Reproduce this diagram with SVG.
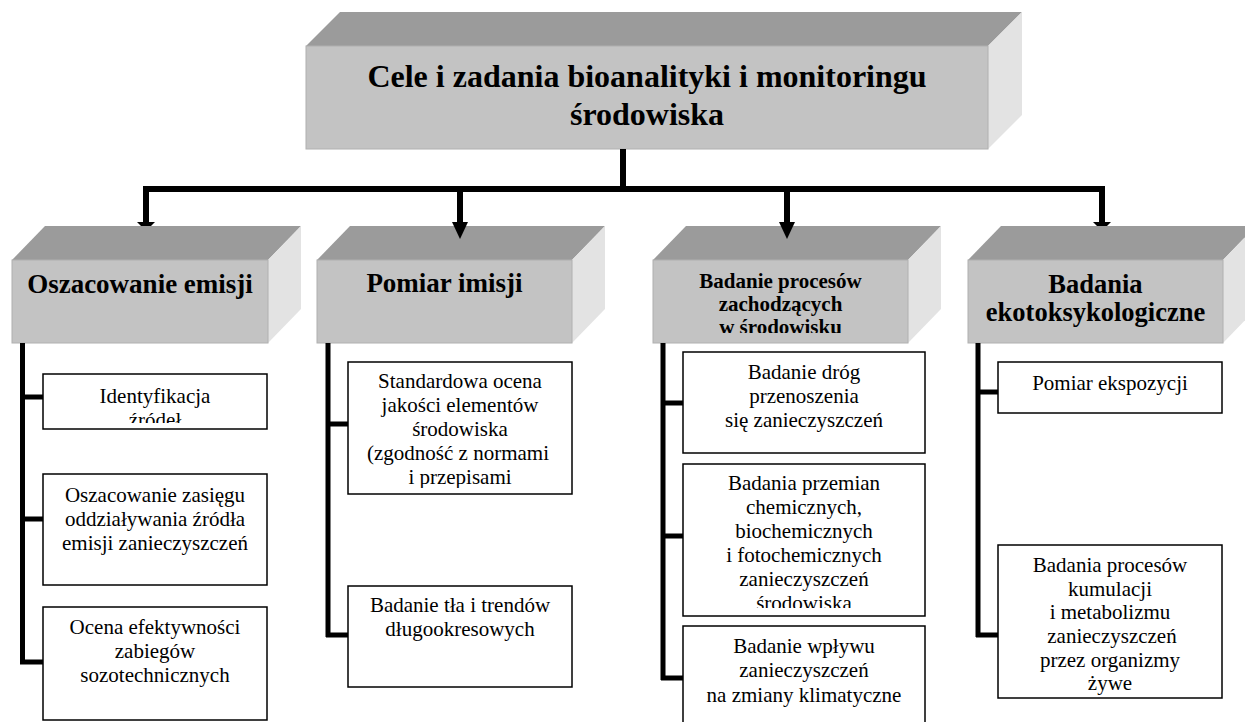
<svg xmlns="http://www.w3.org/2000/svg" width="1245" height="722" viewBox="0 0 1245 722" font-family="'Liberation Serif','Times New Roman',serif">
<style>
.tp{fill:#9b9b9b}
.fr{fill:#c3c3c3;stroke:#b0b0b0;stroke-width:1}
.sd{fill:#e3e3e3}
.sub{fill:#fff;stroke:#000;stroke-width:1.5}
.t{font-family:"Liberation Serif","Times New Roman",serif;font-size:21px;text-anchor:middle;fill:#000}
.h{font-weight:bold;font-size:27px}
.h4{font-weight:bold;font-size:26.5px}
.h3{font-weight:bold;font-size:21px}
.ti{font-weight:bold;font-size:32px}
.c{stroke:#000;stroke-width:6;fill:none;stroke-linejoin:miter}
.b{stroke:#000;stroke-width:5;fill:none}
</style>
<defs>
<marker id="ah" markerUnits="userSpaceOnUse" viewBox="0 -8 17 16" refX="0" refY="0" markerWidth="17" markerHeight="16" orient="auto">
<path d="M0,-8 L17,0 L0,8 z" fill="#000"/>
</marker>
<clipPath id="c3h"><rect x="653" y="260" width="255" height="73"/></clipPath>
<clipPath id="c1a"><rect x="43" y="374" width="224" height="49"/></clipPath>
<clipPath id="c2a"><rect x="348" y="362" width="224" height="126"/></clipPath>
<clipPath id="c3b"><rect x="683" y="464" width="242" height="144"/></clipPath>
</defs>
<rect width="1245" height="722" fill="#fff"/>

<g id="root">
<polygon class="tp" points="340,12 1022,12 988,46 306,46"/>
<polygon class="sd" points="988,46 1022,12 1022,115 988,149"/>
<rect class="fr" x="306" y="46" width="682" height="103"/>
<text class="t ti" x="647" y="87">Cele i zadania bioanalityki i monitoringu</text>
<text class="t ti" x="647" y="125">środowiska</text>
</g>

<g id="emisja">
<polygon class="tp" points="45,226 301,226 268,260 12,260"/>
<polygon class="sd" points="268,260 301,226 301,309 268,343"/>
<rect class="fr" x="12" y="260" width="256" height="83"/>
<text class="t h" x="140" y="293">Oszacowanie emisji</text>
</g>

<g id="imisja">
<polygon class="tp" points="350,226 605,226 572,260 317,260"/>
<polygon class="sd" points="572,260 605,226 605,309 572,343"/>
<rect class="fr" x="317" y="260" width="255" height="83"/>
<text class="t h" x="444.5" y="292">Pomiar imisji</text>
</g>

<g id="procesy">
<polygon class="tp" points="686,226 941,226 908,260 653,260"/>
<polygon class="sd" points="908,260 941,226 941,309 908,343"/>
<rect class="fr" x="653" y="260" width="255" height="83"/>
<g clip-path="url(#c3h)">
<text class="t h3" x="780.5" y="288">Badanie procesów</text>
<text class="t h3" x="780.5" y="311">zachodzących</text>
<text class="t h3" x="780.5" y="334">w środowisku</text>
</g>
</g>

<g id="ekotoks">
<polygon class="tp" points="1001,226 1256,226 1223,260 968,260"/>
<polygon class="sd" points="1223,260 1256,226 1256,309 1223,343"/>
<rect class="fr" x="968" y="260" width="255" height="83"/>
<text class="t h4" x="1095.5" y="293">Badania</text>
<text class="t h4" x="1095.5" y="321">ekotoksykologiczne</text>
</g>

<g id="connectors">
<path class="c" d="M623,149 V189"/>
<path class="c" d="M146,222 V189 H1102 V222"/>
<polygon points="137,222 155,222 151,226 141,226" fill="#000"/>
<polygon points="1093,222 1111,222 1107,226 1097,226" fill="#000"/>
<path class="c" d="M460,189 V222" marker-end="url(#ah)"/>
<path class="c" d="M787,189 V222" marker-end="url(#ah)"/>
<path class="b" d="M22.5,343 V664 M20,397 H43 M20,519 H43 M20,662 H43"/>
<path class="b" d="M328,343 V637 M326,424 H348 M326,635 H348"/>
<path class="b" d="M663,343 V680 M661,403 H683 M661,536 H683 M661,678 H683"/>
<path class="b" d="M978,343 V637 M976,392 H998 M976,635 H998"/>
<path d="M358,453 H376" stroke="#000" stroke-width="4"/>
</g>

<g id="identyfikacja">
<rect class="sub" x="43" y="374" width="224" height="55"/>
<g clip-path="url(#c1a)">
<text class="t" x="155" y="403">Identyfikacja</text>
<text class="t" x="155" y="427">źródeł</text>
</g>
</g>

<g id="zasieg">
<rect class="sub" x="43" y="474" width="224" height="111"/>
<text class="t" x="155" y="502">Oszacowanie zasięgu</text>
<text class="t" x="155" y="526">oddziaływania źródła</text>
<text class="t" x="155" y="550">emisji zanieczyszczeń</text>
</g>

<g id="efektywnosc">
<rect class="sub" x="43" y="607" width="224" height="113"/>
<text class="t" x="155" y="634">Ocena efektywności</text>
<text class="t" x="155" y="658">zabiegów</text>
<text class="t" x="155" y="682">sozotechnicznych</text>
</g>

<g id="standardowa">
<rect class="sub" x="348" y="362" width="224" height="132"/>
<g clip-path="url(#c2a)">
<text class="t" x="460" y="388">Standardowa ocena</text>
<text class="t" x="460" y="412">jakości elementów</text>
<text class="t" x="460" y="436">środowiska</text>
<text class="t" x="458" y="460">(zgodność z normami</text>
<text class="t" x="460" y="484">i przepisami</text>
</g>
</g>

<g id="tlo">
<rect class="sub" x="348" y="586" width="224" height="101"/>
<text class="t" x="460" y="612">Badanie tła i trendów</text>
<text class="t" x="460" y="636">długookresowych</text>
</g>

<g id="drogi">
<rect class="sub" x="683" y="352" width="242" height="101"/>
<text class="t" x="804" y="379">Badanie dróg</text>
<text class="t" x="804" y="403">przenoszenia</text>
<text class="t" x="804" y="427">się zanieczyszczeń</text>
</g>

<g id="przemiany">
<rect class="sub" x="683" y="464" width="242" height="152"/>
<g clip-path="url(#c3b)">
<text class="t" x="804" y="490">Badania przemian</text>
<text class="t" x="804" y="514">chemicznych,</text>
<text class="t" x="804" y="538">biochemicznych</text>
<text class="t" x="804" y="562">i fotochemicznych</text>
<text class="t" x="804" y="586">zanieczyszczeń</text>
<text class="t" x="804" y="610">środowiska</text>
</g>
</g>

<g id="klimat">
<rect class="sub" x="683" y="626" width="242" height="110"/>
<text class="t" x="804" y="653">Badanie wpływu</text>
<text class="t" x="804" y="677">zanieczyszczeń</text>
<text class="t" x="804" y="702">na zmiany klimatyczne</text>
</g>

<g id="ekspozycja">
<rect class="sub" x="998" y="362" width="224" height="51"/>
<text class="t" x="1110" y="390">Pomiar ekspozycji</text>
</g>

<g id="kumulacja">
<rect class="sub" x="998" y="545" width="224" height="153"/>
<text class="t" x="1110" y="572">Badania procesów</text>
<text class="t" x="1110" y="596">kumulacji</text>
<text class="t" x="1110" y="619">i metabolizmu</text>
<text class="t" x="1112" y="643">zanieczyszczeń</text>
<text class="t" x="1110" y="667">przez organizmy</text>
<text class="t" x="1110" y="690">żywe</text>
</g>
</svg>
